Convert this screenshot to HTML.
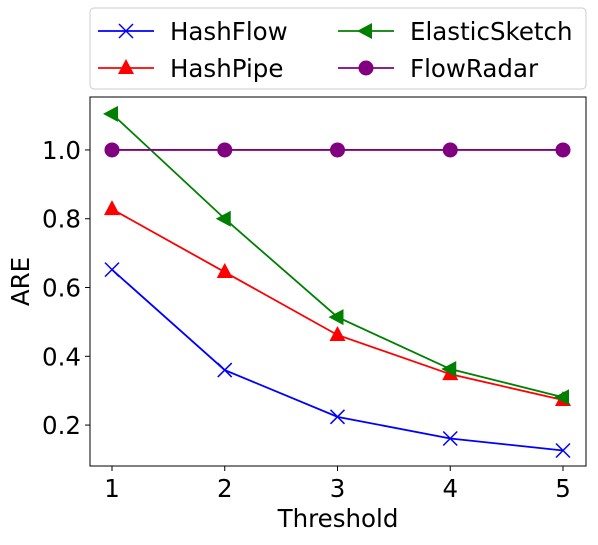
<!DOCTYPE html>
<html><head><meta charset="utf-8"><style>
body{margin:0;background:#fff;font-family:"Liberation Sans","DejaVu Sans",sans-serif;}
svg text{font-family:"DejaVu Sans","Liberation Sans",sans-serif;}
</style></head><body>
<svg id="c" width="598" height="540" xmlns="http://www.w3.org/2000/svg"></svg>
<script>
const categories=[1,2,3,4,5];
const hashflow=[0.652,0.36,0.224,0.161,0.126];
const hashpipe=[0.828,0.645,0.462,0.348,0.273];
const elastic=[1.105,0.80,0.514,0.363,0.281];
const flowradar=[1.0,1.0,1.0,1.0,1.0];
const yTicks=[0.2,0.4,0.6,0.8,1.0];
const yTickLabels=["0.2","0.4","0.6","0.8","1.0"];
const seriesNames=["HashFlow","HashPipe","ElasticSketch","FlowRadar"];

const L=90,R=586,T=97,B=466;
const xmin=0.805,xmax=5.204,ymin=0.081,ymax=1.154;
const X=v=>L+(v-xmin)/(xmax-xmin)*(R-L);
const Y=v=>B-(v-ymin)/(ymax-ymin)*(B-T);
const svg=document.getElementById('c');
const NS='http://www.w3.org/2000/svg';
function mk(tag,attrs,parent){const e=document.createElementNS(NS,tag);for(const k in attrs)e.setAttribute(k,attrs[k]);(parent||svg).appendChild(e);return e;}

const frame=mk('rect',{x:L,y:T,width:R-L,height:B-T,fill:'none',stroke:'#000','stroke-width':1});



categories.forEach(c=>{
 const x=X(c);
 const t=mk('line',{x1:x,x2:x,y1:B,y2:B+5,stroke:'#000'});
 
 
 const l=mk('text',{x:x,y:B+31,'text-anchor':'middle','font-size':24.5});
 l.textContent=String(c);
 
 
});
yTicks.forEach((v,i)=>{
 const y=Y(v);
 const t=mk('line',{x1:L-5,x2:L,y1:y,y2:y,stroke:'#000'});
 
 
 const l=mk('text',{x:L-9,y:y+9,'text-anchor':'end','font-size':24.5});
 l.textContent=yTickLabels[i];
 
 
});
const xt=mk('text',{x:(L+R)/2,y:527,'text-anchor':'middle','font-size':24.5});
xt.textContent='Threshold';


const yt=mk('text',{x:29,y:(T+B)/2,'text-anchor':'middle','font-size':24.5,transform:`rotate(-90 29 ${(T+B)/2})`});
yt.textContent='ARE';



function marker(kind,x,y,color,g){
 if(kind==='x'){mk('path',{d:`M${x-7} ${y-7}L${x+7} ${y+7}M${x-7} ${y+7}L${x+7} ${y-7}`,stroke:color,'stroke-width':1.5,fill:'none'},g);}
 else if(kind==='tri'){mk('path',{d:`M${x} ${y-9}L${x+8} ${y+6}L${x-8} ${y+6}Z`,fill:color},g);}
 else if(kind==='left'){mk('path',{d:`M${x-9} ${y}L${x+6} ${y-8}L${x+6} ${y+8}Z`,fill:color},g);}
 else mk('circle',{cx:x,cy:y,r:7.5,fill:color},g);
}
const series=[[hashflow,'#0000ff','x','hashflow'],[hashpipe,'#ff0000','tri','hashpipe'],[elastic,'#008000','left','elasticsketch'],[flowradar,'#800080','circle','flowradar']];
series.forEach(([d,col,k,n])=>{
 const g=mk('g',{});
 
 
 mk('polyline',{points:d.map((v,i)=>X(categories[i])+','+Y(v)).join(' '),fill:'none',stroke:col,'stroke-width':1.8},g);
 d.forEach((v,i)=>marker(k,X(categories[i]),Y(v),col,g));
});

const lg=mk('g',{});


mk('rect',{x:90,y:8,width:496,height:81,rx:4,fill:'#fff',stroke:'#ccc'},lg);
const pos=[[98,31],[98,68],[338,31],[338,68]];
series.forEach(([d,col,k,n],i)=>{
 const [x,y]=pos[i];
 const e=mk('g',{},lg);
 
 
 mk('line',{x1:x,x2:x+56,y1:y,y2:y,stroke:col,'stroke-width':1.8},e);
 marker(k,x+28,y,col,e);
 const t=mk('text',{x:x+72,y:y+9,'font-size':24.5},e);
 t.textContent=seriesNames[i];
});
</script>
</body></html>
